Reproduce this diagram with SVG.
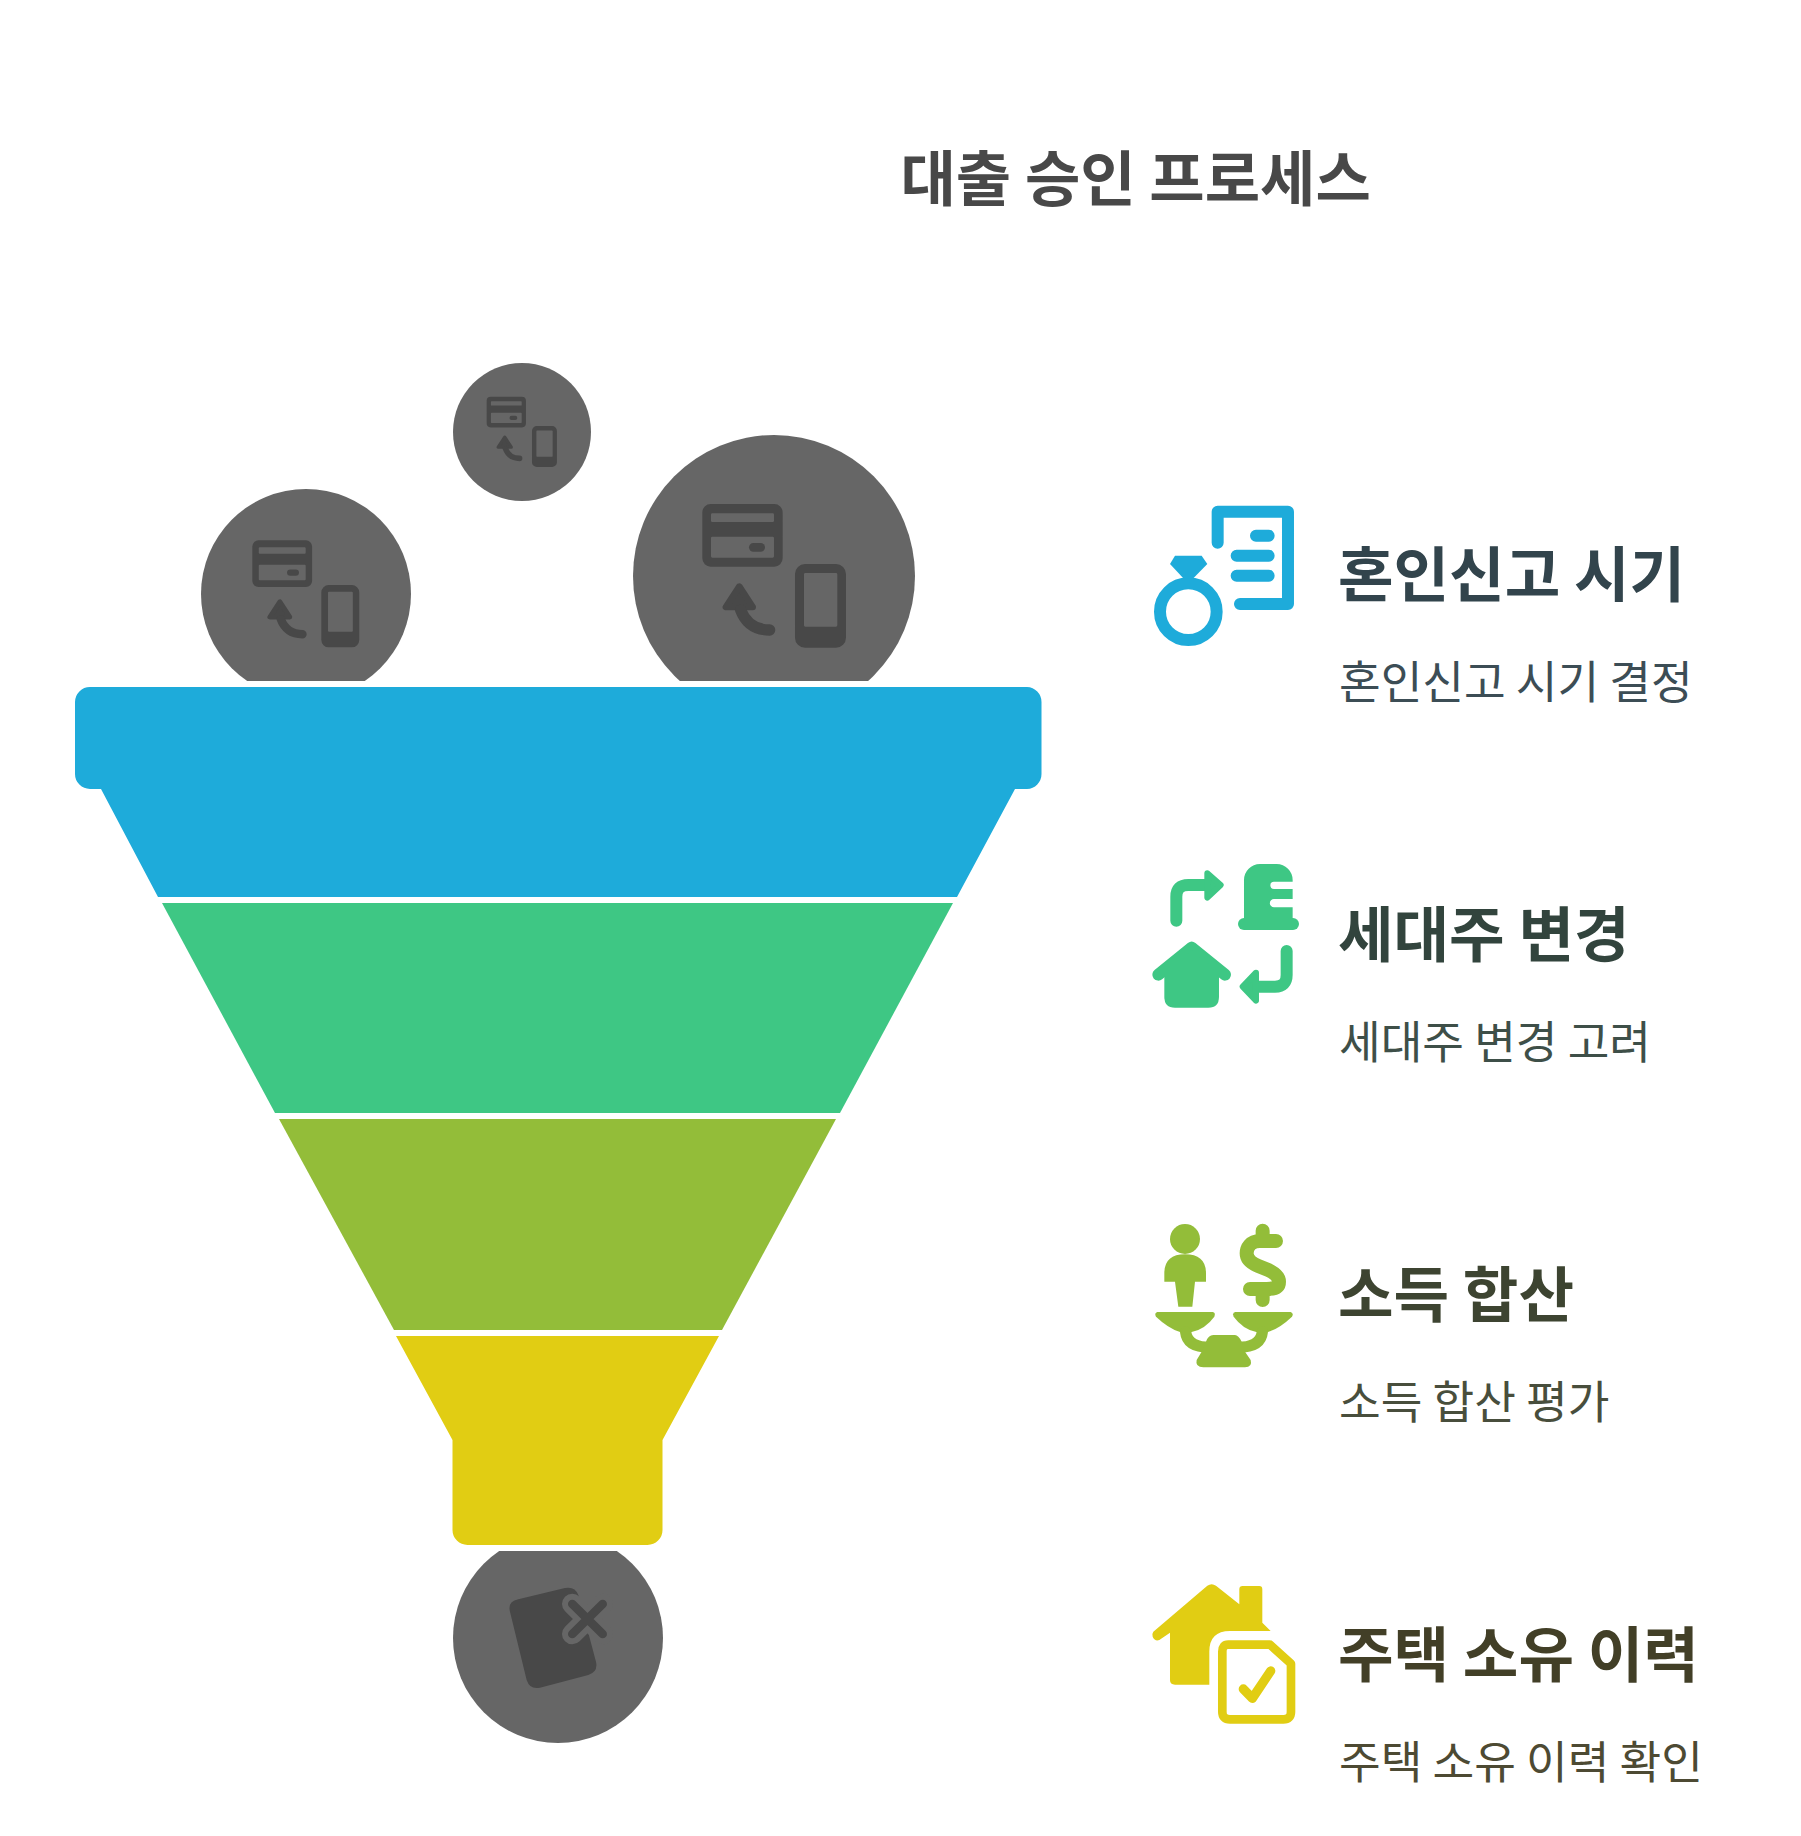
<svg xmlns="http://www.w3.org/2000/svg" width="1801" height="1836" viewBox="0 0 1801 1836">
<style>
.t{font-family:"Noto Sans CJK KR","Noto Sans",sans-serif}
.title{font-size:60.2px;font-weight:700;fill:#484848}
.h{font-size:60.4px;font-weight:700}
.s{font-size:45.3px;font-weight:400}
.ln{fill:none;stroke-linecap:round;stroke-linejoin:round}
</style>
<defs>
<clipPath id="ct"><rect x="0" y="0" width="1801" height="681"/></clipPath>
<clipPath id="cb"><rect x="0" y="1551" width="1801" height="285"/></clipPath>
<g id="pay">
<path fill="#484848" fill-rule="evenodd" d="M272,252H463A25,25 0 0 1 488,277V415A25,25 0 0 1 463,440H272A25,25 0 0 1 247,415V277A25,25 0 0 1 272,252ZM277,280A4,4 0 0 0 273,284V302A4,4 0 0 0 277,306H458A4,4 0 0 0 462,302V284A4,4 0 0 0 458,280ZM277,350A4,4 0 0 0 273,354V409A4,4 0 0 0 277,413H458A4,4 0 0 0 462,409V354A4,4 0 0 0 458,350Z"/>
<rect x="387" y="369" width="48" height="26" rx="13" fill="#484848"/>
<path fill="#484848" fill-rule="evenodd" d="M555,432H648A30,30 0 0 1 678,462V653A30,30 0 0 1 648,683H555A30,30 0 0 1 525,653V462A30,30 0 0 1 555,432ZM556,459A4,4 0 0 0 552,463V616A4,4 0 0 0 556,620H648A4,4 0 0 0 652,616V463A4,4 0 0 0 648,459Z"/>
<path fill="#484848" stroke="#484848" stroke-width="20" stroke-linejoin="round" d="M358,500L318,561H398Z"/>
<path class="ln" stroke="#484848" stroke-width="34" d="M362,570Q385,630 449,630"/>
</g>
</defs>
<rect width="1801" height="1836" fill="#fff"/>
<text class="t title" x="900.500" y="201">대출 승인 프로세스</text>
<g id="ball-large" clip-path="url(#ct)">
<circle cx="774" cy="576" r="141" fill="#666"/>
<use href="#pay" transform="translate(620,420) scale(.3333)"/>
</g>
<g id="ball-mid" clip-path="url(#ct)">
<circle cx="306" cy="594" r="105" fill="#666"/>
<use href="#pay" transform="translate(191,477.800) scale(.2482)"/>
</g>
<g id="ball-small">
<circle cx="522" cy="432" r="69" fill="#666"/>
<use href="#pay" transform="translate(446.400,355.700) scale(.163)"/>
</g>
<g id="ball-bottom" clip-path="url(#cb)">
<circle cx="558" cy="1638" r="105" fill="#666"/>
<g transform="translate(420,1520) scale(.3333)">
<path fill="#484848" d="M295,238L435,204Q465,198 475,225L528,425Q535,455 505,465L360,503Q330,510 320,480L270,275Q262,245 295,238Z"/>
<path class="ln" stroke="#666" stroke-width="62" d="M457,252L548,342M548,252L457,342"/>
<path class="ln" stroke="#484848" stroke-width="26" d="M457,252L548,342M548,252L457,342"/>
</g>
</g>
<g id="funnel-1">
<path fill="#1eabda" d="M90,687H1027A15,15 0 0 1 1041.500,702V774A15,15 0 0 1 1027,789H1015L957,897H158L101,789H90A15,15 0 0 1 75,774V702A15,15 0 0 1 90,687Z"/>
</g>
<g id="funnel-2"><path fill="#3ec784" d="M162,903H953L840,1113H275Z"/></g>
<g id="funnel-3"><path fill="#93bd39" d="M279,1119H836L722,1330H394Z"/></g>
<g id="funnel-4"><path fill="#e1cd13" d="M396,1336H719L662.500,1440V1530A15,15 0 0 1 647.500,1545H467.500A15,15 0 0 1 452.500,1530V1440Z"/></g>
<g id="item-1">
<g transform="translate(1130,490) scale(.3333)">
<circle cx="175" cy="365" r="85" fill="none" stroke="#1eabda" stroke-width="36"/>
<path fill="#1eabda" d="M135,197H215L232,222L190,265H160L120,222Z"/>
<path class="ln" stroke="#1eabda" stroke-width="36" d="M263,158V65H474V342H330M378,137H416M320,197H416M320,257H416"/>
</g>
<text class="t h" x="1338" y="597" fill="#32444c">혼인신고 시기</text>
<text class="t s" x="1339" y="699.300" fill="#3c4d55">혼인신고 시기 결정</text>
</g>
<g id="item-2">
<g transform="translate(1130,850) scale(.3333)">
<path class="ln" stroke="#3ec784" stroke-width="36" d="M139,212V140Q139,105 175,105H240"/>
<path fill="#3ec784" stroke="#3ec784" stroke-width="18" stroke-linejoin="round" d="M232,70L272,105L232,143Z"/>
<path fill="#3ec784" d="M342,222V90A48,48 0 0 1 390,42H440A48,48 0 0 1 488,90V95H432A11,11 0 0 0 432,117H488V147H432A12,12 0 0 0 432,172H488V222Z"/>
<rect x="324" y="204" width="183" height="36" rx="18" fill="#3ec784"/>
<path class="ln" stroke="#3ec784" stroke-width="36" d="M85,374L185,293L285,374"/>
<path fill="#3ec784" d="M103,370L185,300L267,370V440Q267,473 235,473H135Q103,473 103,440Z"/>
<path class="ln" stroke="#3ec784" stroke-width="36" d="M470,303V375Q470,410 435,410H375"/>
<path fill="#3ec784" stroke="#3ec784" stroke-width="18" stroke-linejoin="round" d="M378,368L338,410L378,452Z"/>
</g>
<text class="t h" x="1338" y="957" fill="#32443d">세대주 변경</text>
<text class="t s" x="1339" y="1059.300" fill="#3e4f48">세대주 변경 고려</text>
</g>
<g id="item-3">
<g transform="translate(1130,1210) scale(.3333)">
<circle cx="165" cy="87" r="45" fill="#93bd39"/>
<path fill="#93bd39" d="M103,215V190Q103,133 165,133Q228,133 228,190V215H195L187,290H145L135,215Z"/>
<path class="ln" stroke="#93bd39" stroke-width="42" d="M438,93H390C360,93 350,115 350,130C350,150 365,160 385,168L415,180C435,190 447,200 447,215C447,235 425,237 410,237H360M398,62V93M398,237V270"/>
<path fill="#93bd39" d="M82,306H248Q258,308 253,320Q225,358 185,366H150Q115,355 78,320Q72,310 82,306Z"/>
<path fill="#93bd39" d="M482,306H316Q306,308 311,320Q339,358 379,366H414Q449,355 486,320Q492,310 482,306Z"/>
<path class="ln" stroke="#93bd39" stroke-width="34" d="M167,366Q172,412 240,412M397,366Q392,412 324,412"/>
<path fill="#93bd39" d="M250,375H315Q325,375 335,395L345,425L362,450Q368,472 345,472H220Q195,472 200,450L215,425L228,395Q235,375 250,375Z"/>
</g>
<text class="t h" x="1338" y="1317" fill="#3d4431">소득 합산</text>
<text class="t s" x="1339" y="1419.300" fill="#484e3c">소득 합산 평가</text>
</g>
<g id="item-4">
<g transform="translate(1130,1570) scale(.3333)">
<path fill="#e1cd13" d="M70,185L232,47Q245,38 258,47L328,103V58Q328,48 338,48H388Q397,48 397,58V158L422,183H300Q238,183 238,245V344H135Q120,344 120,330V188L88,210Q75,215 68,200Q65,192 70,185Z"/>
<path class="ln" stroke="#e1cd13" stroke-width="26" d="M295,224H420L483,281V425Q483,448 460,448H300Q277,448 277,425V245Q277,224 295,224Z"/>
<path class="ln" stroke="#e1cd13" stroke-width="28" d="M340,357L367,385L422,303"/>
</g>
<text class="t h" x="1338" y="1677" fill="#423f27">주택 소유 이력</text>
<text class="t s" x="1339" y="1779.300" fill="#4d4a33">주택 소유 이력 확인</text>
</g>
</svg>
